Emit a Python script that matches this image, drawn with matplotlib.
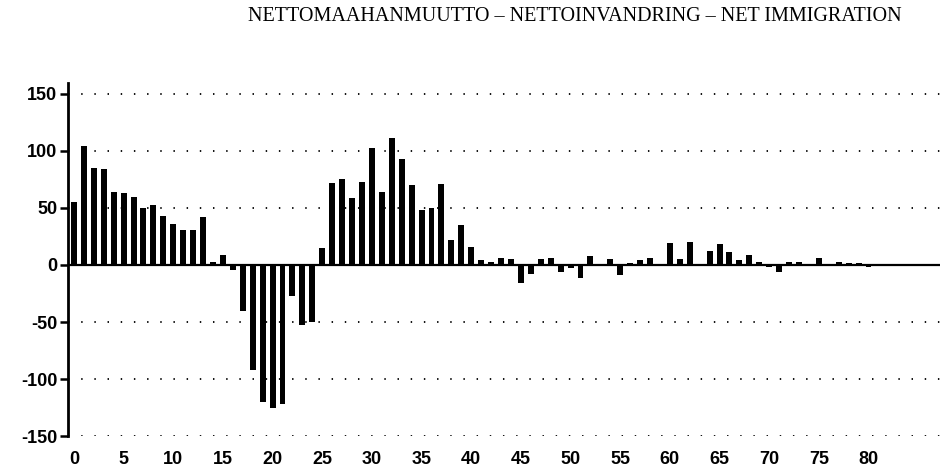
import numpy as np
import matplotlib.pyplot as plt

# net immigration by age (0 .. 86)
ages = np.arange(87)
net_immigration = [
    55, 104, 85, 84, 64, 63, 60, 50, 53, 43,
    36, 31, 31, 42, 3, 9, -4, -40, -92, -120,
    -125, -122, -27, -53, -50, 15, 72, 75, 59, 73,
    103, 64, 111, 93, 70, 48, 50, 71, 22, 35,
    16, 4, 3, 6, 5, -16, -8, 5, 6, -6,
    -3, -11, 8, 0, 5, -9, 2, 4, 6, 1,
    19, 5, 20, 1, 12, 18, 11, 4, 9, 3,
    -2, -6, 3, 3, 1, 6, 0, 3, 2, 2,
    -2, -1, 1, 1, 1, 1, 1,
]
yticks = [-150, -100, -50, 0, 50, 100, 150]
xticks = list(range(0, 81, 5))
title = "NETTOMAAHANMUUTTO \u2013 NETTOINVANDRING \u2013 NET IMMIGRATION"

fig = plt.figure(figsize=(9.42, 4.70), dpi=100)
ax = fig.add_axes([0.0727, 0.0723, 0.9252, 0.752])

ax.bar(ages, net_immigration, width=0.6, color='black', zorder=3)
ax.axhline(0, color='black', linewidth=1.6, zorder=4)

for y in yticks:
    if y != 0:
        ax.axhline(y, color='black', linewidth=1.3, linestyle=(0, (0.8, 6.5)), zorder=1)

ax.set_xlim(-0.55, 87.2)
ax.set_ylim(-150, 160)

for side in ['top', 'right', 'bottom']:
    ax.spines[side].set_visible(False)
ax.spines['left'].set_linewidth(2.0)
ax.spines['left'].set_bounds(-150, 160)

ax.set_yticks(yticks)
ax.set_yticklabels([str(v) for v in yticks], fontsize=13, fontweight='bold',
                   family='Liberation Sans')
ax.tick_params(axis='y', direction='out', length=6, width=1.8, pad=2)

ax.set_xticks(xticks)
ax.set_xticklabels([str(v) for v in xticks], fontsize=13, fontweight='bold',
                   family='Liberation Sans')
ax.tick_params(axis='x', length=0, pad=11)

fig.text(0.61, 0.965, title, ha='center', va='center', fontsize=14.5,
         family='Liberation Serif')

fig.savefig('out.png', dpi=100)
